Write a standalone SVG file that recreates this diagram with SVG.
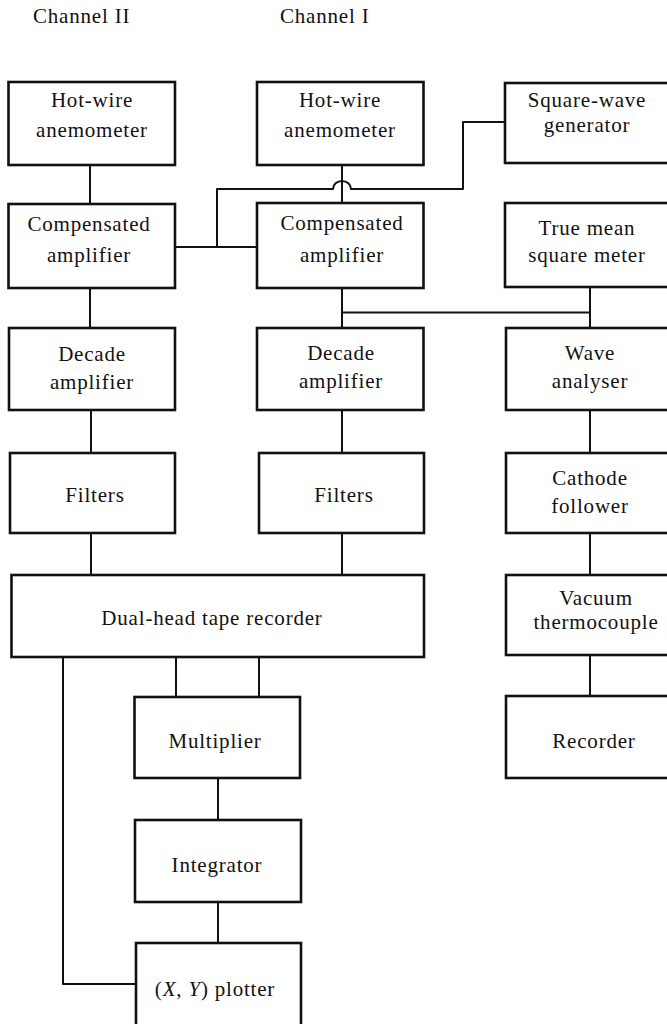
<svg xmlns="http://www.w3.org/2000/svg" width="667" height="1024" viewBox="0 0 667 1024">
<style>
.box{fill:#fff;stroke:#111;stroke-width:2.6}
.t{font-family:"Liberation Serif","Times New Roman",serif;font-size:21px;letter-spacing:0.8px;fill:#111;text-anchor:middle}
.h{font-family:"Liberation Serif","Times New Roman",serif;font-size:21px;letter-spacing:0.8px;fill:#111}
.c{fill:none;stroke:#111;stroke-width:2;stroke-linejoin:round}
</style>
<rect width="667" height="1024" fill="#fff"/>
<text class="h" x="33" y="23">Channel II</text>
<text class="h" x="280" y="23">Channel I</text>
<g id="connectors">
<path class="c" d="M90 165V204M90 288V328M91 410V453M91 533V575"/>
<path class="c" d="M342 165V203M342 288V328M342 410V453M342 533V575"/>
<path class="c" d="M175 247H257"/>
<path class="c" d="M505 122H463V189H351A9 8 0 0 0 333 189H217V247"/>
<path class="c" d="M342 312.5H590M590 287V328M590 410V453M590 533V575M590 655V696"/>
<path class="c" d="M176 657V697M259 657V697M218 778V820M218 902V943"/>
<path class="c" d="M63 657V984H136"/>
</g>
<g id="n1"><rect class="box" x="8.5" y="82" width="166.5" height="83"/><text class="t" x="92" y="107">Hot-wire</text><text class="t" x="92" y="137">anemometer</text></g>
<g id="n2"><rect class="box" x="257" y="82" width="166.5" height="83"/><text class="t" x="340" y="107">Hot-wire</text><text class="t" x="340" y="137">anemometer</text></g>
<g id="n3"><rect class="box" x="505" y="83" width="166" height="80"/><text class="t" x="587" y="107">Square-wave</text><text class="t" x="587" y="132">generator</text></g>
<g id="n4"><rect class="box" x="8.5" y="204" width="166.5" height="84"/><text class="t" x="89" y="231">Compensated</text><text class="t" x="89" y="262">amplifier</text></g>
<g id="n5"><rect class="box" x="257" y="203" width="166.5" height="85"/><text class="t" x="342" y="230">Compensated</text><text class="t" x="342" y="262">amplifier</text></g>
<g id="n6"><rect class="box" x="505" y="203" width="166" height="84"/><text class="t" x="587" y="235">True mean</text><text class="t" x="587" y="262">square meter</text></g>
<g id="n7"><rect class="box" x="9" y="328" width="166" height="82"/><text class="t" x="92" y="361">Decade</text><text class="t" x="92" y="389">amplifier</text></g>
<g id="n8"><rect class="box" x="257" y="328" width="166.5" height="82"/><text class="t" x="341" y="360">Decade</text><text class="t" x="341" y="388">amplifier</text></g>
<g id="n9"><rect class="box" x="506" y="328" width="165" height="82"/><text class="t" x="590" y="360">Wave</text><text class="t" x="590" y="388">analyser</text></g>
<g id="n10"><rect class="box" x="10" y="453" width="165" height="80"/><text class="t" x="95" y="502">Filters</text></g>
<g id="n11"><rect class="box" x="259" y="453" width="165" height="80"/><text class="t" x="344" y="502">Filters</text></g>
<g id="n12"><rect class="box" x="506" y="453" width="165" height="80"/><text class="t" x="590" y="485">Cathode</text><text class="t" x="590" y="513">follower</text></g>
<g id="n13"><rect class="box" x="11.5" y="575" width="412.5" height="82"/><text class="t" x="212" y="625">Dual-head tape recorder</text></g>
<g id="n14"><rect class="box" x="506" y="575" width="165" height="80"/><text class="t" x="596" y="605">Vacuum</text><text class="t" x="596" y="629">thermocouple</text></g>
<g id="n15"><rect class="box" x="134.5" y="697" width="165.5" height="81"/><text class="t" x="215" y="748">Multiplier</text></g>
<g id="n16"><rect class="box" x="506" y="696" width="165" height="82"/><text class="t" x="594" y="748">Recorder</text></g>
<g id="n17"><rect class="box" x="135" y="820" width="166" height="82"/><text class="t" x="217" y="872">Integrator</text></g>
<g id="n18"><rect class="box" x="136" y="943" width="165" height="95"/><text class="t" x="215" y="996">(<tspan font-style="italic">X</tspan>, <tspan font-style="italic">Y</tspan>) plotter</text></g>
</svg>
